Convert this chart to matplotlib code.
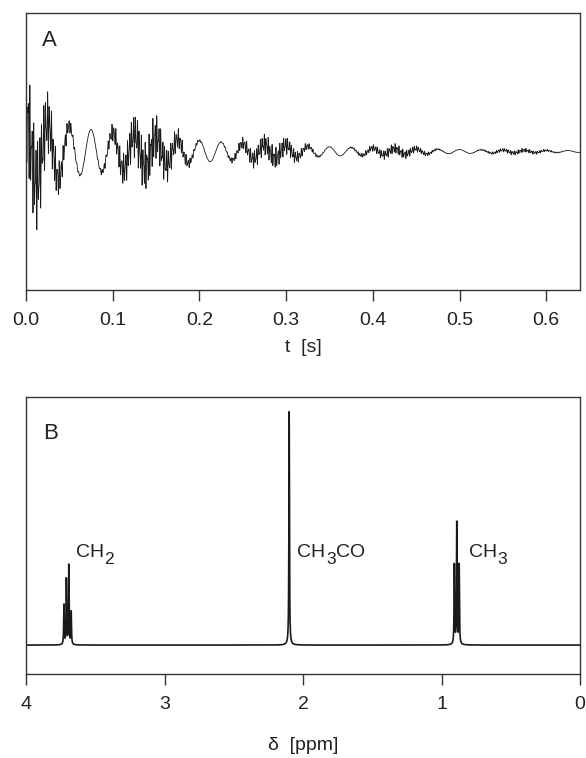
import matplotlib
matplotlib.use("Agg")
import matplotlib.pyplot as plt
from matplotlib.transforms import offset_copy
import numpy as np

plt.rcParams["font.family"] = ["Liberation Sans", "DejaVu Sans"]

# espectrometro / aquisicao
SF_MHZ = 400.0
LARGURA_HZ = 1.8
J_HZ = 7.0
OFFSET_SINGLETO_HZ = 40.0
T_MAX = 0.639

# grupos do espectro: (texto, subscrito?)
grupos = [
    [("CH", False), ("2", True)],
    [("CH", False), ("3", True), ("CO", False)],
    [("CH", False), ("3", True)],
]
deslocamentos_ppm = [3.70, 2.10, 0.89]
# alturas dos picos no espectro (B)
alturas_linhas = [
    [0.14, 0.34, 0.28, 0.17],
    [1.0],
    [0.34, 0.52, 0.34],
]
# amplitudes de cada linha no FID (A)
amplitudes_fid = [
    [0.08, 0.25, 0.25, 0.08],
    [1.0],
    [0.25, 0.50, 0.25],
]
rotulo_x_ppm = [3.64, 2.04, 0.80]
rotulo_y = 0.377

ticks_t = [0.0, 0.1, 0.2, 0.3, 0.4, 0.5, 0.6]
ticks_ppm = [4, 3, 2, 1, 0]

COR_LINHA = "#1a1a1a"
COR_EIXO = "#333333"
COR_TEXTO = "#222222"


def linhas(valores):
    pos, alt = [], []
    for delta, alturas in zip(deslocamentos_ppm, valores):
        n = len(alturas)
        for k, h in enumerate(alturas):
            pos.append(delta + (k - (n - 1) / 2) * J_HZ / SF_MHZ)
            alt.append(h)
    return np.array(pos), np.array(alt)


def estilo_eixo(ax):
    for s in ax.spines.values():
        s.set_color(COR_EIXO)
        s.set_linewidth(1.0)
    ax.tick_params(axis="x", direction="out", length=8, width=1.0,
                   color=COR_EIXO, labelsize=14, pad=8, labelcolor=COR_TEXTO)
    ax.set_yticks([])


def escrever_formula(ax, x, y, partes, renderer):
    dx = 0.0
    for texto, sub in partes:
        tr = offset_copy(ax.transData, fig=ax.figure, x=dx,
                         y=-7 if sub else 0.0, units="dots")
        txt = ax.text(x, y, texto, transform=tr, fontsize=12.5 if sub else 14,
                      ha="left", va="baseline", color=COR_TEXTO)
        dx += txt.get_window_extent(renderer).width + 0.5


hwhm_ppm = LARGURA_HZ / 2 / SF_MHZ
carrier_ppm = deslocamentos_ppm[1] - OFFSET_SINGLETO_HZ / SF_MHZ

fig = plt.figure(figsize=(5.86, 7.58), dpi=100)
axA = fig.add_axes([0.0444, 0.6174, 0.9454, 0.3654])
axB = fig.add_axes([0.0444, 0.1108, 0.9454, 0.3655])
renderer = fig.canvas.get_renderer()

# painel A: FID
pos_f, amp_f = linhas(amplitudes_fid)
t = np.linspace(0, T_MAX, 4096)
fid = np.zeros_like(t)
for p, h in zip(pos_f, amp_f):
    nu = (p - carrier_ppm) * SF_MHZ
    fid += h * np.cos(2 * np.pi * nu * t) * np.exp(-np.pi * LARGURA_HZ * t)
axA.plot(t, fid, color=COR_LINHA, lw=0.6)
axA.set_xlim(0, T_MAX)
axA.set_ylim(-4.1, 4.1)
axA.set_xticks(ticks_t)
axA.set_xticklabels([f"{v:.1f}" for v in ticks_t])
axA.set_xlabel("t  [s]", fontsize=14, labelpad=7, color=COR_TEXTO)
axA.text(0.028, 0.881, "A", transform=axA.transAxes, fontsize=16,
         color=COR_TEXTO)
estilo_eixo(axA)

# painel B: espectro
pos, alt = linhas(alturas_linhas)
d = np.linspace(4.0, 0.0, 40000)
espectro = np.zeros_like(d)
for p, h in zip(pos, alt):
    espectro += h / (1 + ((d - p) / hwhm_ppm) ** 2)
axB.plot(d, espectro, color=COR_LINHA, lw=1.2)
axB.set_xlim(4, 0)
axB.set_ylim(-0.124, 1.063)
axB.set_xticks(ticks_ppm)
axB.set_xticklabels([str(v) for v in ticks_ppm])
axB.set_xlabel("δ  [ppm]", fontsize=14, labelpad=17, color=COR_TEXTO)
axB.text(0.030, 0.848, "B", transform=axB.transAxes, fontsize=16,
         color=COR_TEXTO)
for partes, xr in zip(grupos, rotulo_x_ppm):
    escrever_formula(axB, xr, rotulo_y, partes, renderer)
estilo_eixo(axB)

fig.savefig("out.png", dpi=100)
